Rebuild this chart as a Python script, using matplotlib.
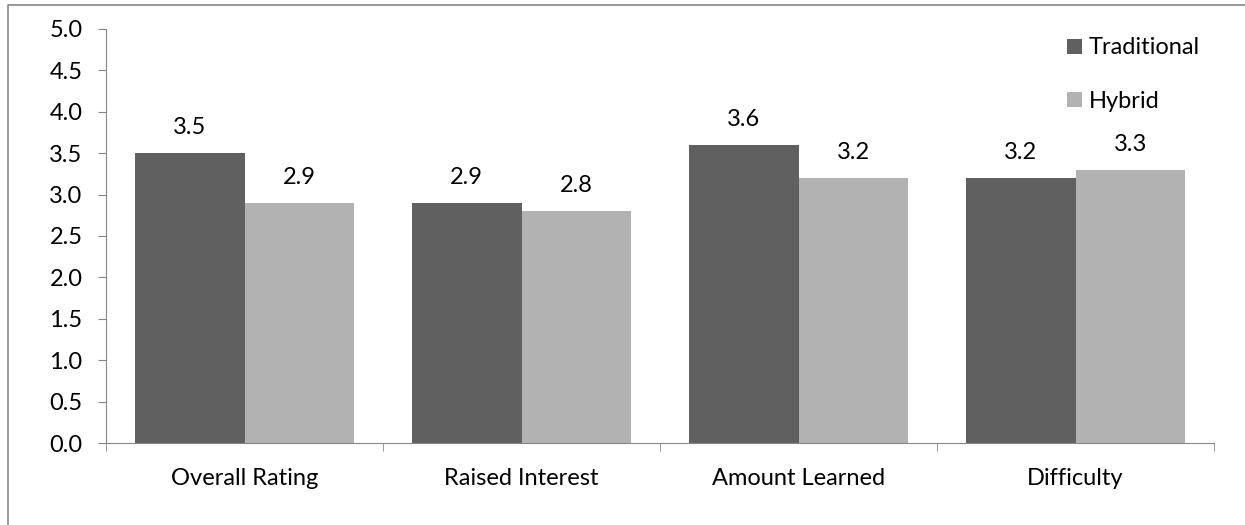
import matplotlib
matplotlib.use('Agg')
import matplotlib.pyplot as plt
from matplotlib.lines import Line2D
import numpy as np

categories = ['Overall Rating', 'Raised Interest', 'Amount Learned', 'Difficulty']
traditional = [3.5, 2.9, 3.6, 3.2]
hybrid = [2.9, 2.8, 3.2, 3.3]
series_names = ['Traditional', 'Hybrid']

plt.rcParams['font.family'] = ['Lato', 'DejaVu Sans']
fs = 17

fig = plt.figure(figsize=(12.45, 5.25), dpi=100)
ax = fig.add_axes([106/1245, 82/525, (1214-106)/1245, (443-29)/525])

x = np.arange(len(categories))
w = 0.397
b1 = ax.bar(x - w/2, traditional, w, color='#606060', label=series_names[0])
b2 = ax.bar(x + w/2, hybrid, w, color='#b2b2b2', label=series_names[1])

# etiquetas de valor
for bars in (b1, b2):
    for r in bars:
        ax.text(r.get_x() + r.get_width()/2, r.get_height() + 0.31, '%.1f' % r.get_height(),
                ha='center', va='center', fontsize=fs)

ax.set_xlim(-0.5, 3.5)
ax.set_ylim(0, 5)
ax.set_yticks(np.arange(0, 5.01, 0.5))
ax.set_yticklabels(['%.1f' % v for v in np.arange(0, 5.01, 0.5)], fontsize=fs)
ax.set_xticks(x)
ax.set_xticklabels(categories, fontsize=fs)
ax.set_xticks(np.arange(-0.5, 3.6, 1), minor=True)
ax.tick_params(axis='x', which='major', length=0, pad=18)
ax.tick_params(axis='x', which='minor', length=6, color='#868686', direction='out')
ax.tick_params(axis='y', length=6, color='#868686', pad=11)
for s in ['top', 'right']:
    ax.spines[s].set_visible(False)
for s in ['left', 'bottom']:
    ax.spines[s].set_color('#868686')

leg = ax.legend(loc='upper left', bbox_to_anchor=(1058/1245, 1 - 28/525), bbox_transform=fig.transFigure,
                frameon=False, fontsize=fs, handlelength=0.6, handleheight=0.6,
                handletextpad=0.3, labelspacing=1.38, borderaxespad=0)

# borde de la figura
fig.add_artist(Line2D([8/1245, 8/1245, 1], [0, 1 - 5/525, 1 - 5/525], color='#888888', lw=1.2))

fig.savefig('out.png', dpi=100)
